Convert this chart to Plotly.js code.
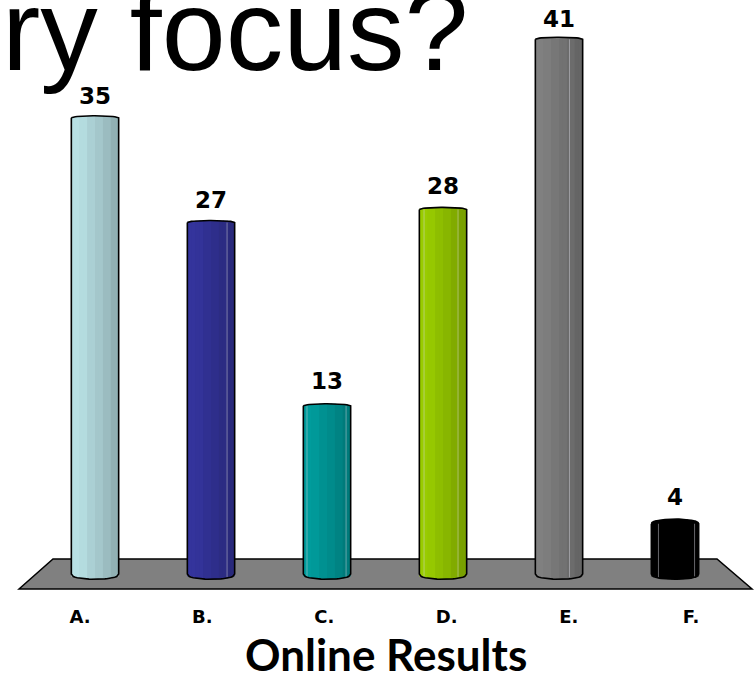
<!DOCTYPE html>
<html><head><meta charset="utf-8">
<script src="https://cdn.plot.ly/plotly-3.0.1.min.js"></script>
<style>html,body{margin:0;padding:0;background:#fff}#c{width:755px;height:675px}</style>
</head><body><div id="c"></div>
<script>
const categories = ['A.','B.','C.','D.','E.','F.'];
const values = [35,27,13,28,41,4];
const colors = [[184,224,228],[52,52,156],[0,156,156],[153,204,0],[128,128,128],[0,0,0]];
const labelShift=[7,8,10,8,5,12];
const W=755,H=675;
const x0=95,dx=116,y0=576,sy=13.09;
const barW=0.408;
const profile=[1,1,.98,.98,.93,.93,.89,.89,.84,.84,.79,.79];
const stripeA=[null,.134,-.177,-.168,.086,-.147];
const stripeB=[null,null,.16,.125,null,.164];
const n=profile.length;
const traces=[];
const capTop=(u,i)=>{const a=i===5?0.35:0.16;return a*Math.sqrt(Math.max(0,1-Math.pow(2*u-1,2)));};
const capBot=(u)=>0.15-0.4*Math.pow(Math.max(0,1-Math.pow(2*u-1,2)),0.4);
for(let k=0;k<n;k++){
  const u=(k+0.5)/n;
  const overlap=k<n-1?0.012:0;
  traces.push({type:'bar',x:categories.map((_,i)=>i),
    y:values.map((v,i)=>v+capTop(u,i)-capBot(u)),base:values.map(()=>capBot(u)),
    width:barW/n+overlap,offset:-barW/2+k*barW/n,
    marker:{color:colors.map((c)=>{
      const m=profile[k];
      return `rgb(${c.map(v=>Math.round(v*m)).join(',')})`;}),line:{width:0}},
    hoverinfo:'skip',showlegend:false});
}
// thin highlight stripes on the cylinders
[stripeA,stripeB].forEach(s=>{
  traces.push({type:'bar',x:categories.map((_,i)=>i),y:values.map((v,i)=>s[i]===null?0:v+0.1),base:values.map(()=>-0.1),
    width:0.009,offset:s.map(o=>o===null?0:o),
    marker:{color:s.map(o=>o===null?'rgba(0,0,0,0)':'rgba(215,215,225,0.45)'),line:{width:0}},
    hoverinfo:'skip',showlegend:false});
});
// outlines
const ox=[],oy=[];
values.forEach((v,i)=>{
  const m=24;
  for(let k=0;k<=m;k++){const u=k/m;ox.push(i-barW/2+u*barW);oy.push(v+capTop(u,i));}
  for(let k=m;k>=0;k--){const u=k/m;ox.push(i-barW/2+u*barW);oy.push(capBot(u));}
  ox.push(i-barW/2);oy.push(v+capTop(0,i));
  ox.push(null);oy.push(null);
});
traces.push({type:'scatter',mode:'lines',x:ox,y:oy,line:{color:'#000',width:1.6},hoverinfo:'skip',showlegend:false,connectgaps:false});
// anchor trace for the lower category axis
traces.push({type:'scatter',mode:'markers',x:categories.map((_,i)=>i),y:values,xaxis:'x2',marker:{opacity:0},hoverinfo:'skip',showlegend:false});

const px=v=>v/W, py=v=>1-v/H;
const floorPath=`M ${px(19)} ${py(589)} L ${px(53)} ${py(559)} L ${px(717)} ${py(559)} L ${px(752)} ${py(589)} Z`;
const layout={
  width:W,height:H,margin:{l:0,r:0,t:0,b:0},paper_bgcolor:'#fff',plot_bgcolor:'#fff',
  barmode:'overlay',showlegend:false,
  xaxis:{range:[(0-x0)/dx,(W-x0)/dx],visible:false,fixedrange:true},
  xaxis2:{overlaying:'x',anchor:'free',position:(H-604)/H,side:'bottom',
    range:[(0-80)/122.2,(W-80)/122.2],tickmode:'array',tickvals:categories.map((_,i)=>i),ticktext:categories,
    tickfont:{family:'"DejaVu Sans"',size:18,color:'#000',weight:700},
    showgrid:false,zeroline:false,showline:false,ticks:'',fixedrange:true},
  yaxis:{range:[(y0-H)/sy,y0/sy],visible:false,fixedrange:true},
  shapes:[{type:'path',xref:'paper',yref:'paper',path:floorPath,fillcolor:'#808080',line:{color:'#000',width:1.5},layer:'below'}],
  annotations:values.map((v,i)=>({x:i,y:v,xref:'x',yref:'y',text:String(v),showarrow:false,yanchor:'bottom',yshift:labelShift[i],
      font:{family:'"DejaVu Sans"',size:23,color:'#000',weight:700}})).concat([
    {xref:'paper',yref:'paper',x:0,y:py(96.5),xanchor:'left',yanchor:'bottom',text:'ry focus?',showarrow:false,
      font:{family:'"Liberation Sans"',size:115,color:'#000'}},
    {xref:'paper',yref:'paper',x:386/W,y:py(654),xanchor:'center',yanchor:'middle',text:'Online Results',showarrow:false,
      font:{family:'Lato',size:44,color:'#000',weight:700}}
  ])
};
Plotly.newPlot('c',traces,layout,{displayModeBar:false,staticPlot:true});
</script></body></html>
